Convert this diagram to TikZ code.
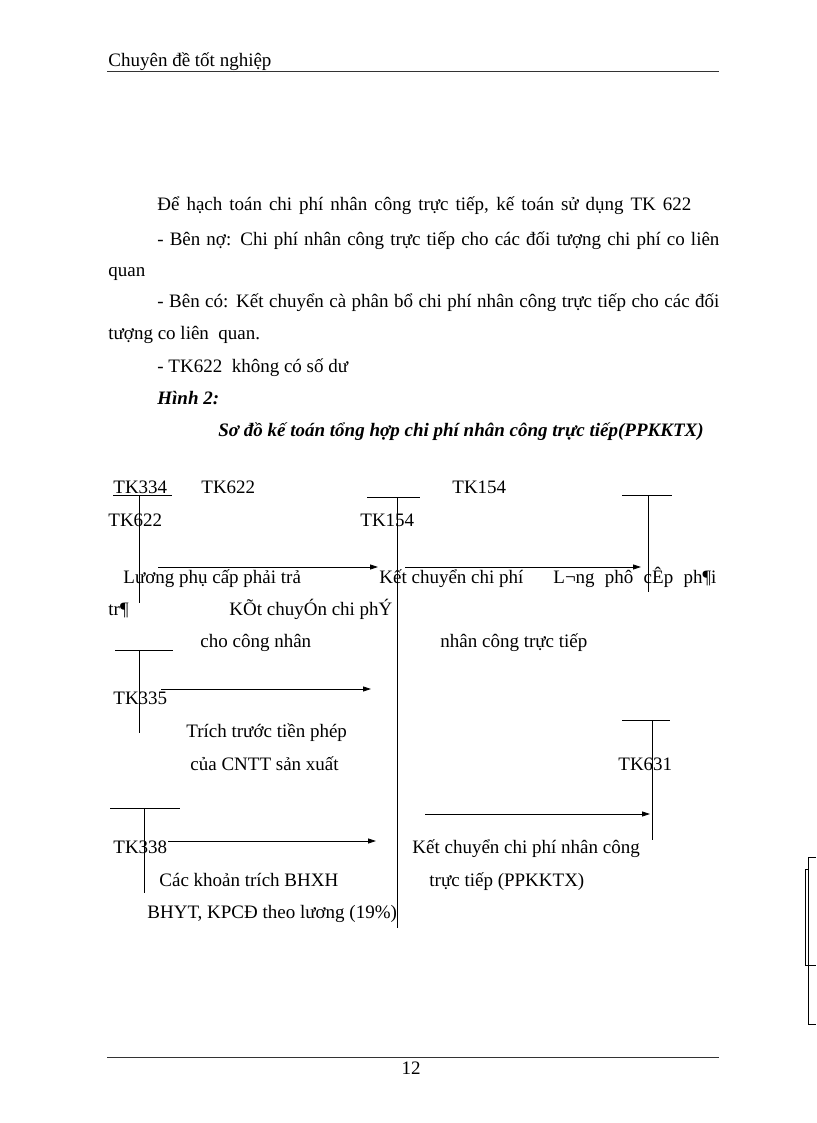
\documentclass[tikz,border=0pt]{standalone}
\usepackage{fontspec}
\setmainfont{Liberation Serif}
\usetikzlibrary{arrows.meta}

\begin{document}
\begin{tikzpicture}[x=1pt,y=-1pt,line width=.8pt,
    txt/.style={anchor=base west,inner sep=0pt,font=\fontsize{19}{21}\selectfont},
    bi/.style={txt,font=\fontsize{19}{21}\selectfont\bfseries\itshape},
    arr/.style={-{Triangle[length=8pt,width=5pt]}},
    rule/.style={line width=.6pt,black!80}]
    \useasboundingbox (0,0) rectangle (816,1123);%
    % header / footer
    \node[txt] (head) at (108,67) {Chuyên đề tốt nghiệp};%
    \draw[rule] (107,71) -- (719,71);%
    \draw[rule] (107,1057) -- (719,1057);%
    \node[txt,anchor=base] (page) at (411,1074) {12};%
    % body text
    \node[txt] (l1) at (157,211) {\makebox[534pt][s]{Để hạch toán chi phí nhân công trực tiếp, kế toán sử dụng TK 622}};%
    \node[txt] (l2) at (157,245) {\makebox[562pt][s]{- Bên nợ: Chi phí nhân công trực tiếp cho các đối tượng chi phí co liên}};%
    \node[txt] (l3) at (108,276) {quan};%
    \node[txt] (l4) at (157,307) {\makebox[562pt][s]{- Bên có: Kết chuyển cà phân bổ chi phí nhân công trực tiếp cho các đối}};%
    \node[txt] (l5) at (108,339) {tượng co liên\ \ quan.};%
    \node[txt] (l6) at (157,372) {- TK622\ \ không có số dư};%
    \node[bi] (fig) at (157,404) {Hình 2:};%
    \node[bi] (title) at (218,436) {Sơ đồ kế toán tổng hợp chi phí nhân công trực tiếp(PPKKTX)};%
    % T accounts
    \foreach \l/\r/\x/\t/\b in {113/172/139/495/603, 367/420/397/497/928, 622/672/648/495/592,
      115/173/139/650/733, 622/670/652/720/840, 110/180/144/808/893} {%
      \draw (\l,\t) -- (\r,\t) (\x,\t) -- (\x,\b);%
    };%
    % account labels
    \foreach \n/\x/\y/\s in {tka/113/493/TK334, tkb/201/493/TK622, tkc/452/493/TK154,
      tkd/108/526/TK622, tke/360/526/TK154, tkf/113/704/TK335, tkg/618/770/TK631, tkh/113/853/TK338} {%
      \node[txt] (\n) at (\x,\y) {\s};%
    };%
    % arrows
    \coordinate (a1) at (158,567); \coordinate (b1) at (378,567);%
    \coordinate (a2) at (405,567); \coordinate (b2) at (641,567);%
    \coordinate (a3) at (161,689); \coordinate (b3) at (371,689);%
    \coordinate (a4) at (425,814); \coordinate (b4) at (650,814);%
    \coordinate (a5) at (168,841); \coordinate (b5) at (376,841);%
    \foreach \i in {1,...,5} {\draw[arr] (a\i) -- (b\i);};%
    % arrow labels
    \node[txt] (e1) at (123,583) {Lương phụ cấp phải trả};%
    \node[txt] (e2) at (379,583) {Kết chuyển chi phí};%
    \node[txt] (e3) at (553,583) {\makebox[163pt][s]{L¬ng\ \ phô\ \ cÊp\ \ ph¶i}};%
    \node[txt] (e4) at (108,615) {tr¶};%
    \node[txt] (e5) at (229,615) {KÕt chuyÓn chi phÝ};%
    \node[txt] (e6) at (200,647) {cho công nhân};%
    \node[txt] (e7) at (440,647) {nhân công trực tiếp};%
    \node[txt] (e8) at (186,737) {Trích trước tiền phép};%
    \node[txt] (e9) at (190,770) {của CNTT sản xuất};%
    \node[txt] (e10) at (412,853) {Kết chuyển chi phí nhân công};%
    \node[txt] (e11) at (429,886) {trực tiếp (PPKKTX)};%
    \node[txt] (e12) at (159,886) {Các khoản trích BHXH};%
    \node[txt] (e13) at (147,918) {BHYT, KPCĐ theo lương (19\%)};%
    % box at right edge
    \draw (816,857) -- (808,857) -- (808,1024) -- (816,1024);%
    \draw (808,869) -- (805,869) -- (805,965) -- (816,965);%
  \end{tikzpicture}
\end{document}
